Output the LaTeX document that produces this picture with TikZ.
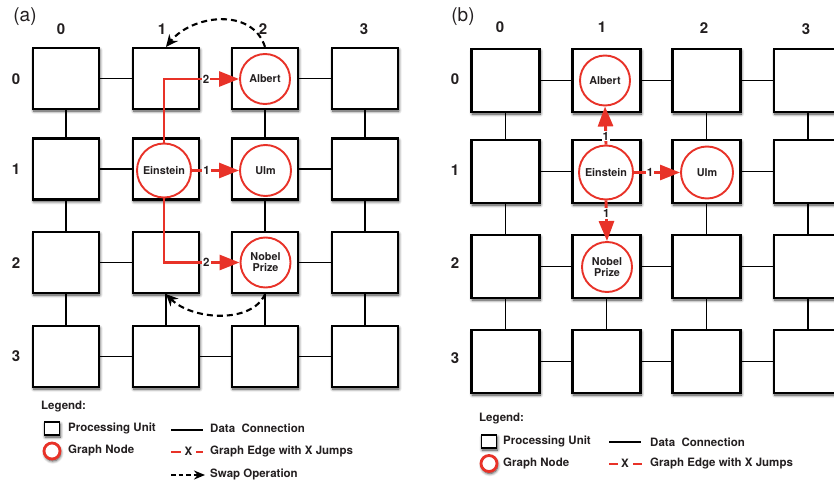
\documentclass[tikz,border=0pt]{standalone}
\usepackage{fontspec}
\setmainfont{TeX Gyre Heros}
\usetikzlibrary{arrows.meta,shadows.blur}

\definecolor{edgered}{RGB}{232,50,40}
\definecolor{ink}{RGB}{35,31,32}

\tikzset{
  softshadow/.style={blur shadow={shadow xshift=0.8pt,shadow yshift=-2pt,shadow blur radius=3pt,shadow blur steps=8,shadow opacity=75}},
  pu/.style={draw=black,line width=2.2pt,fill=white,minimum width=66pt,minimum height=61pt,inner sep=0pt,softshadow},
  pub/.style={pu,minimum width=68pt,minimum height=63pt},
  gnode/.style={circle,draw=edgered,line width=1.9pt,fill=white,inner sep=0pt,text=ink,align=center,
    font=\fontsize{10.8}{11}\selectfont\bfseries},
  link/.style={draw=black,line width=1.8pt},
  gedge/.style={draw=edgered,line width=2.9pt,-{Triangle[length=20pt,width=15pt]}},
  jumps/.style={fill=white,inner sep=1pt,text=ink,font=\fontsize{11.5}{12}\selectfont\bfseries},
  swap/.style={draw=black,line width=2.1pt,dash pattern=on 6pt off 4pt,-{Stealth[length=12pt,width=11pt]}},
  idx/.style={text=ink,font=\fontsize{15}{16}\selectfont\bfseries},
  panel/.style={text=ink,font=\fontsize{19}{22}\selectfont},
  legtxt/.style={anchor=west,inner sep=0pt,text=ink,font=\fontsize{11.5}{13}\selectfont\bfseries},
  puicon/.style={draw=black,line width=1.7pt,fill=white,minimum width=15pt,minimum height=13pt,inner sep=0pt,softshadow},
  gnicon/.style={circle,draw=edgered,line width=2.8pt,fill=white,minimum size=16pt,inner sep=0pt,softshadow},
  redbar/.style={draw=edgered,line width=2.4pt},
}

\begin{document}
\begin{tikzpicture}[x=1pt,y=-1pt]
\useasboundingbox (0,0) rectangle (834,484);
\clip (0,0) rectangle (834,484);

% ---------------- panel (a) ----------------
\node[panel] (pa) at (25,17) {(a)};
\foreach \c/\cx/\lx in {0/66/61,1/166/162,2/265/263,3/365/364}{
  \node[idx] (acol\c) at (\lx,29) {\c};
  \foreach \r/\ry in {0/78.5,1/169,2/262.5,3/356.5}{
    \node[pu] (a\c\r) at (\cx,\ry) {};
  }
}
\foreach \r/\ly in {0/79,1/169,2/263,3/356}{
  \node[idx] (arow\r) at (16,\ly) {\r};
}

% data connections of the mesh
\draw[link] (a00) -- (a10);  \draw[link] (a20) -- (a30);
\draw[link] (a01) -- (a11);  \draw[link] (a21) -- (a31);
\draw[link] (a02) -- (a12);  \draw[link] (a22) -- (a32);
\draw[link] (a03) -- (a13);  \draw[link] (a13) -- (a23);  \draw[link] (a23) -- (a33);
\draw[link] (a00) -- (a01);  \draw[link] (a01) -- (a02);  \draw[link] (a02) -- (a03);
\draw[link] (a12) -- (a13);
\draw[link] (a20) -- (a21);  \draw[link] (a21) -- (a22);  \draw[link] (a22) -- (a23);
\draw[link] (a30) -- (a31);  \draw[link] (a31) -- (a32);  \draw[link] (a32) -- (a33);

% graph nodes
\node[gnode,minimum size=50pt] (albA) at (265,79) {Albert};
\node[gnode,minimum size=54pt] (einA) at (164,170.5) {Einstein};
\node[gnode,minimum size=51pt] (ulmA) at (265.5,170.5) {Ulm};
\node[gnode,minimum size=50pt] (nobA) at (265.5,262.5) {Nobel\\Prize};

% graph edges with jump counts
\draw[gedge] (einA.north) |- node[jumps,pos=0.78] {2} (albA.west);
\draw[gedge] (einA.east) -- node[jumps,pos=0.31] {1} (ulmA.west);
\draw[gedge] (einA.south) |- node[jumps,pos=0.78] {2} (nobA.west);

% swap operations
\draw[swap] (a20.north) .. controls +(-13,-40) and +(26,-32) .. (a10.north);
\draw[swap] (a22.south) .. controls +(-13,30) and +(26,26) .. (a12.south);

% legend (a)
\node[legtxt] (legA) at (41,407) {Legend:};
\node[puicon] (sqA) at (52,428.5) {};
\node[legtxt] (puA) at (68,428) {Processing Unit};
\node[gnicon] (cnA) at (52,451) {};
\node[legtxt] (gnA) at (68,450) {Graph Node};
\coordinate (dcA1) at (171,430);
\coordinate (dcA2) at (203,430);
\draw[link] (dcA1) -- (dcA2);
\node[legtxt] (dcA) at (210,428) {Data\ \ Connection};
\coordinate (xA1) at (171,452);
\coordinate (xA2) at (181,452);
\coordinate (xA3) at (196,452);
\coordinate (xA4) at (203,452);
\draw[redbar] (xA1) -- (xA2);
\draw[redbar] (xA3) -- (xA4);
\node[text=ink,inner sep=0pt,font=\fontsize{11.5}{13}\selectfont\bfseries] (xA) at (188.5,451) {X};
\node[legtxt] (geA) at (210,451) {Graph Edge with X Jumps};
\coordinate (swA1) at (171,475);
\coordinate (swA2) at (205,475);
\draw[draw=black,line width=1.9pt,dash pattern=on 4.5pt off 3pt,-{Stealth[length=11pt,width=9pt]}] (swA1) -- (swA2);
\node[legtxt] (soA) at (210,474) {Swap Operation};

% ---------------- panel (b) ----------------
\node[panel] (pb) at (463,17) {(b)};
\foreach \c/\cx/\lx/\ly in {0/505.5/500/27,1/606.5/602/27,2/706.5/704/28,3/808/806/29}{
  \node[idx] (bcol\c) at (\lx,\ly) {\c};
  \foreach \r/\ry in {0/80.5,1/171.5,2/266.5,3/361.5}{
    \node[pub] (b\c\r) at (\cx,\ry) {};
  }
}
\foreach \r/\ly in {0/79,1/170,2/263,3/358}{
  \node[idx] (brow\r) at (455,\ly) {\r};
}

\draw[link] (b00) -- (b10);  \draw[link] (b10) -- (b20);  \draw[link] (b20) -- (b30);
\draw[link] (b01) -- (b11);  \draw[link] (b21) -- (b31);
\draw[link] (b02) -- (b12);  \draw[link] (b12) -- (b22);  \draw[link] (b22) -- (b32);
\draw[link] (b03) -- (b13);  \draw[link] (b13) -- (b23);  \draw[link] (b23) -- (b33);
\draw[link] (b00) -- (b01);  \draw[link] (b01) -- (b02);  \draw[link] (b02) -- (b03);
\draw[link] (b12) -- (b13);
\draw[link] (b20) -- (b21);  \draw[link] (b21) -- (b22);  \draw[link] (b22) -- (b23);
\draw[link] (b30) -- (b31);  \draw[link] (b31) -- (b32);  \draw[link] (b32) -- (b33);

\node[gnode,minimum size=50pt] (albB) at (605,80.5) {Albert};
\node[gnode,minimum size=54pt] (einB) at (606,172.5) {Einstein};
\node[gnode,minimum size=52pt] (ulmB) at (707,172.5) {Ulm};
\node[gnode,minimum size=50pt] (nobB) at (607,267) {Nobel\\Prize};

\draw[gedge] (einB.north) -- node[jumps,pos=0.22] {1} (albB.south);
\draw[gedge] (einB.east) -- node[jumps,pos=0.35] {1} (ulmB.west);
\draw[gedge] (einB.south) -- node[jumps,pos=0.32] {1} (nobB.north);

% legend (b)
\node[legtxt] (legB) at (479,419) {Legend:};
\node[puicon] (sqB) at (489,441.5) {};
\node[legtxt] (puB) at (503,441) {Processing Unit};
\node[gnicon] (cnB) at (489,463.5) {};
\node[legtxt] (gnB) at (503,463) {Graph Node};
\coordinate (dcB1) at (609,442);
\coordinate (dcB2) at (641,442);
\draw[link] (dcB1) -- (dcB2);
\node[legtxt] (dcB) at (650,442) {Data\ \ Connection};
\coordinate (xB1) at (609,464);
\coordinate (xB2) at (618,464);
\coordinate (xB3) at (633,464);
\coordinate (xB4) at (642,464);
\draw[redbar] (xB1) -- (xB2);
\draw[redbar] (xB3) -- (xB4);
\node[text=ink,inner sep=0pt,font=\fontsize{11.5}{13}\selectfont\bfseries] (xB) at (625,463) {X};
\node[legtxt] (geB) at (650,463) {Graph Edge with X Jumps};
\end{tikzpicture}
\end{document}
